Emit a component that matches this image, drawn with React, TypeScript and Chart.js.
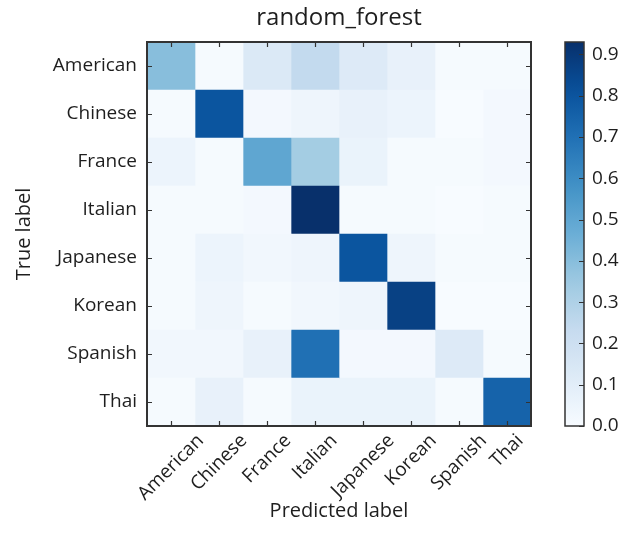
import React, { useEffect, useRef } from "react";
import { Chart, registerables } from "chart.js";

Chart.register(...registerables);

const trueLabels = ["American", "Chinese", "France", "Italian", "Japanese", "Korean", "Spanish", "Thai"];
const predictedLabels = ["American", "Chinese", "France", "Italian", "Japanese", "Korean", "Spanish", "Thai"];

const rowAmerican = [0.40, 0.01, 0.13, 0.24, 0.12, 0.07, 0.01, 0.01];
const rowChinese = [0.01, 0.80, 0.02, 0.04, 0.07, 0.05, 0.00, 0.02];
const rowFrance = [0.05, 0.01, 0.50, 0.33, 0.06, 0.01, 0.01, 0.02];
const rowItalian = [0.01, 0.01, 0.02, 0.93, 0.01, 0.01, 0.00, 0.01];
const rowJapanese = [0.01, 0.05, 0.03, 0.04, 0.80, 0.04, 0.01, 0.01];
const rowKorean = [0.01, 0.04, 0.01, 0.03, 0.04, 0.87, 0.00, 0.00];
const rowSpanish = [0.03, 0.03, 0.07, 0.70, 0.02, 0.02, 0.12, 0.01];
const rowThai = [0.01, 0.07, 0.01, 0.06, 0.06, 0.06, 0.01, 0.75];

const matrix = [rowAmerican, rowChinese, rowFrance, rowItalian, rowJapanese, rowKorean, rowSpanish, rowThai];

const colorbarTicks = [0.0, 0.1, 0.2, 0.3, 0.4, 0.5, 0.6, 0.7, 0.8, 0.9];

const vmin = 0;
const vmax = Math.max(...matrix.map((r) => Math.max(...r)));

const BLUES: [number, number, number][] = [
  [247, 251, 255],
  [222, 235, 247],
  [198, 219, 239],
  [158, 202, 225],
  [107, 174, 214],
  [66, 146, 198],
  [33, 113, 181],
  [8, 81, 156],
  [8, 48, 107],
];

function blues(t: number): string {
  const tt = Math.max(0, Math.min(1, t));
  const pos = tt * (BLUES.length - 1);
  const i = Math.min(BLUES.length - 2, Math.floor(pos));
  const f = pos - i;
  const a = BLUES[i];
  const b = BLUES[i + 1];
  const c = a.map((v, k) => Math.round(v + (b[k] - v) * f));
  return `rgb(${c[0]},${c[1]},${c[2]})`;
}

const FONT = "'Open Sans', 'Noto Sans', sans-serif";
const TEXT = "#1e1e1e";
const FRAME = "#333333";

const matrixDecor = {
  id: "matrixDecor",
  afterDatasetsDraw(chart: any) {
    const { ctx, chartArea } = chart;
    const xs = chart.scales.x;
    const ys = chart.scales.y;
    ctx.save();
    ctx.strokeStyle = FRAME;
    ctx.lineWidth = 1.2;
    const tl = 5;
    predictedLabels.forEach((_, j) => {
      const x = Math.round(xs.getPixelForValue(j + 0.5)) + 0.5;
      ctx.beginPath();
      ctx.moveTo(x, chartArea.bottom);
      ctx.lineTo(x, chartArea.bottom - tl);
      ctx.moveTo(x, chartArea.top);
      ctx.lineTo(x, chartArea.top + tl);
      ctx.stroke();
    });
    trueLabels.forEach((_, i) => {
      const y = Math.round(ys.getPixelForValue(i)) + 0.5;
      ctx.beginPath();
      ctx.moveTo(chartArea.left, y);
      ctx.lineTo(chartArea.left + tl, y);
      ctx.moveTo(chartArea.right, y);
      ctx.lineTo(chartArea.right - tl, y);
      ctx.stroke();
    });
    ctx.lineWidth = 2;
    ctx.strokeRect(chartArea.left, chartArea.top, chartArea.right - chartArea.left, chartArea.bottom - chartArea.top);
    ctx.restore();
  },
  afterDraw(chart: any) {
    const { ctx, chartArea } = chart;
    const xs = chart.scales.x;
    ctx.save();
    ctx.font = `19px ${FONT}`;
    ctx.fillStyle = TEXT;
    ctx.textAlign = "center";
    ctx.textBaseline = "middle";
    const h = 19;
    predictedLabels.forEach((lab, j) => {
      const w = ctx.measureText(lab).width;
      const x = xs.getPixelForValue(j + 0.5);
      const half = ((w + h) * Math.SQRT1_2) / 2;
      const y = chartArea.bottom + 5 + half;
      ctx.save();
      ctx.translate(x, y);
      ctx.rotate(-Math.PI / 4);
      ctx.fillText(lab, 0, 0);
      ctx.restore();
    });
    ctx.restore();
  },
};

const colorbarDecor = {
  id: "colorbarDecor",
  afterDatasetsDraw(chart: any) {
    const { ctx, chartArea } = chart;
    const ys = chart.scales.y;
    ctx.save();
    ctx.strokeStyle = FRAME;
    ctx.lineWidth = 1;
    colorbarTicks.forEach((v) => {
      const y = Math.round(ys.getPixelForValue(v)) + 0.5;
      ctx.beginPath();
      ctx.moveTo(chartArea.right, y);
      ctx.lineTo(chartArea.right - 5, y);
      ctx.stroke();
    });
    ctx.lineWidth = 1.5;
    ctx.strokeRect(chartArea.left, chartArea.top, chartArea.right - chartArea.left, chartArea.bottom - chartArea.top);
    ctx.restore();
  },
};

export default function App() {
  const mainRef = useRef<HTMLCanvasElement>(null);
  const cbRef = useRef<HTMLCanvasElement>(null);

  useEffect(() => {
    const main = new Chart(mainRef.current!, {
      type: "bar",
      data: {
        labels: trueLabels,
        datasets: predictedLabels.map((p, j) => ({
          label: p,
          data: trueLabels.map(() => 1),
          backgroundColor: trueLabels.map((_, i) => blues((matrix[i][j] - vmin) / (vmax - vmin))),
          borderWidth: 0,
          barPercentage: 1,
          categoryPercentage: 1,
          stack: "cm",
        })),
      },
      options: {
        indexAxis: "y",
        responsive: false,
        animation: false,
        devicePixelRatio: 1,
        layout: { padding: { left: 0, right: 9, top: 0, bottom: 0 } },
        plugins: {
          legend: { display: false },
          tooltip: { enabled: false },
          title: {
            display: true,
            text: "random_forest",
            fullSize: false,
            color: TEXT,
            font: { family: FONT, size: 24, weight: "normal" },
            padding: { top: 3.6, bottom: 9.6 },
          },
        },
        scales: {
          x: {
            type: "linear",
            stacked: true,
            min: 0,
            max: predictedLabels.length,
            grid: { display: false },
            border: { display: false },
            ticks: { display: false },
            afterFit: (s: any) => {
              s.height = 121;
            },
            title: {
              display: true,
              text: "Predicted label",
              color: TEXT,
              font: { family: FONT, size: 20 },
              padding: { top: 0, bottom: 24 },
            },
          },
          y: {
            type: "category",
            stacked: true,
            grid: { display: false, drawTicks: false },
            border: { display: false },
            ticks: { color: TEXT, font: { family: FONT, size: 19 }, padding: 10 },
            afterFit: (s: any) => {
              s.width = 147;
            },
            title: {
              display: true,
              text: "True label",
              color: TEXT,
              font: { family: FONT, size: 20 },
              padding: { top: 12, bottom: 0 },
            },
          },
        },
      },
      plugins: [matrixDecor],
    } as any);

    const cb = new Chart(cbRef.current!, {
      type: "bar",
      data: {
        labels: ["scale"],
        datasets: [
          {
            data: [[vmin, vmax]],
            backgroundColor: (c: any) => {
              const area = c.chart.chartArea;
              if (!area) return blues(0.5);
              const g = c.chart.ctx.createLinearGradient(0, area.bottom, 0, area.top);
              for (let k = 0; k <= 20; k++) g.addColorStop(k / 20, blues(k / 20));
              return g;
            },
            borderWidth: 0,
            barPercentage: 1,
            categoryPercentage: 1,
          },
        ],
      },
      options: {
        responsive: false,
        animation: false,
        devicePixelRatio: 1,
        layout: { padding: { left: 25, right: 0, top: 42, bottom: 121 } },
        plugins: { legend: { display: false }, tooltip: { enabled: false } },
        scales: {
          x: { display: false },
          y: {
            position: "right",
            min: vmin,
            max: vmax,
            grid: { display: false, drawTicks: false },
            border: { display: false },
            afterBuildTicks: (s: any) => {
              s.ticks = colorbarTicks.map((v) => ({ value: v }));
            },
            ticks: {
              color: TEXT,
              font: { family: FONT, size: 19 },
              padding: 8,
              callback: (v: any) => Number(v).toFixed(1),
            },
            afterFit: (s: any) => {
              s.width = 35;
            },
          },
        },
      },
      plugins: [colorbarDecor],
    } as any);

    return () => {
      main.destroy();
      cb.destroy();
    };
  }, []);

  return (
    <div style={{ position: "absolute", left: 0, top: 0, width: 619, height: 547, background: "#fff" }}>
      <canvas ref={mainRef} width={540} height={547} style={{ position: "absolute", left: 0, top: 0 }} />
      <canvas ref={cbRef} width={79} height={547} style={{ position: "absolute", left: 540, top: 0 }} />
    </div>
  );
}
